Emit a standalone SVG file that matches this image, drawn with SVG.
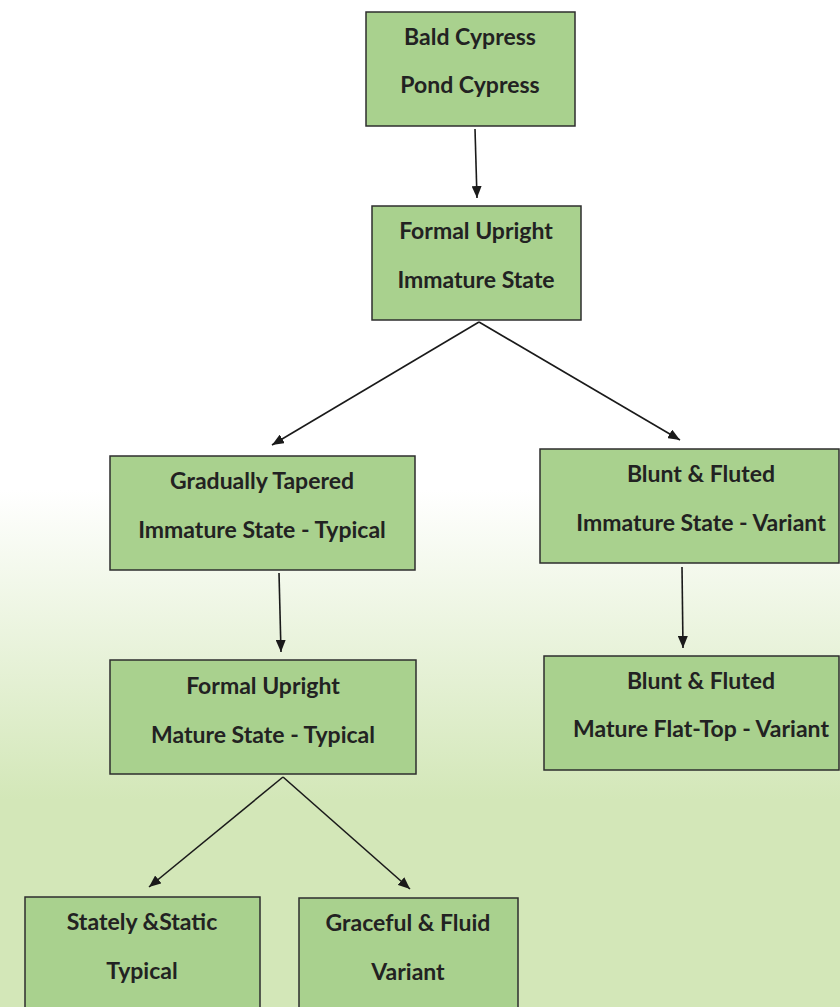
<svg xmlns="http://www.w3.org/2000/svg" width="840" height="1007" viewBox="0 0 840 1007">
<defs>
<linearGradient id="bg" gradientUnits="userSpaceOnUse" x1="0" y1="490" x2="0" y2="800">
<stop offset="0" stop-color="#ffffff"/>
<stop offset="1" stop-color="#d3e7b8"/>
</linearGradient>
<marker id="ah" viewBox="0 0 12 10" refX="12" refY="5" markerWidth="12" markerHeight="10" markerUnits="userSpaceOnUse" orient="auto">
<path d="M0,0 L12,5 L0,10 Z" fill="#1a1a1a"/>
</marker>
<style>
.box{fill:#a9d18e;stroke:#2e2e2e;stroke-width:1.5}
.t{font-family:Lato,"Liberation Sans",sans-serif;font-weight:bold;font-size:23px;fill:#222;text-anchor:middle;dominant-baseline:central}
.c{stroke:#1a1a1a;stroke-width:1.6;fill:none;marker-end:url(#ah)}
</style>
</defs>
<rect x="0" y="0" width="840" height="1007" fill="url(#bg)"/>
<g id="connectors">
<line class="c" x1="475" y1="129" x2="477" y2="198"/>
<line class="c" x1="479" y1="322" x2="272" y2="445"/>
<line class="c" x1="479" y1="322" x2="680" y2="440"/>
<line class="c" x1="279" y1="573" x2="281" y2="652"/>
<line class="c" x1="682" y1="567" x2="683" y2="648"/>
<line class="c" x1="283" y1="777" x2="149" y2="887"/>
<line class="c" x1="283" y1="777" x2="410" y2="889"/>
</g>
<g id="n1"><rect class="box" x="366" y="12" width="209" height="114"/>
<text class="t" x="470" y="36">Bald Cypress</text><text class="t" x="470" y="84">Pond Cypress</text></g>
<g id="n2"><rect class="box" x="372" y="206" width="209" height="114"/>
<text class="t" x="476" y="230">Formal Upright</text><text class="t" x="476" y="279">Immature State</text></g>
<g id="n3"><rect class="box" x="110" y="456" width="305" height="114"/>
<text class="t" x="262" y="480">Gradually Tapered</text><text class="t" x="262" y="529">Immature State - Typical</text></g>
<g id="n4"><rect class="box" x="540" y="449" width="299" height="114"/>
<text class="t" x="701" y="473">Blunt &amp; Fluted</text><text class="t" x="701" y="522">Immature State - Variant</text></g>
<g id="n5"><rect class="box" x="110" y="660" width="306" height="114"/>
<text class="t" x="263" y="685">Formal Upright</text><text class="t" x="263" y="734">Mature State - Typical</text></g>
<g id="n6"><rect class="box" x="544" y="656" width="295" height="114"/>
<text class="t" x="701" y="680">Blunt &amp; Fluted</text><text class="t" x="701" y="728">Mature Flat-Top - Variant</text></g>
<g id="n7"><rect class="box" x="25" y="897" width="235" height="120"/>
<text class="t" x="142" y="921">Stately &amp;Static</text><text class="t" x="142" y="970">Typical</text></g>
<g id="n8"><rect class="box" x="299" y="898" width="219" height="120"/>
<text class="t" x="408" y="922">Graceful &amp; Fluid</text><text class="t" x="408" y="971">Variant</text></g>
</svg>
